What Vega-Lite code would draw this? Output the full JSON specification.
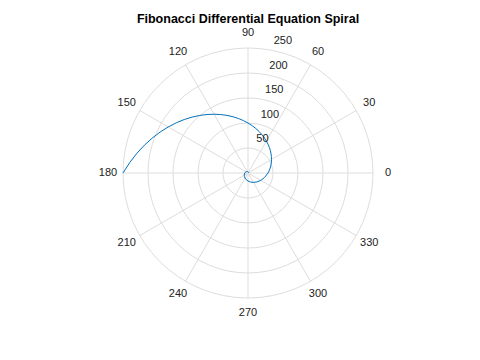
{
  "$schema": "https://vega.github.io/schema/vega-lite/v6.json",
  "width": 250,
  "height": 250,
  "autosize": {"type": "none"},
  "padding": {"left": 123, "top": 48, "right": 107, "bottom": 62},
  "background": "white",
  "title": {
    "text": "Fibonacci Differential Equation Spiral",
    "font": "Liberation Sans",
    "fontSize": 12.5,
    "fontWeight": "bold",
    "color": "#000000",
    "anchor": "middle",
    "frame": "group",
    "offset": 2
  },
  "config": {"view": {"stroke": null}},
  "layer": [
    {
      "data": {"values": [{"r": 50}, {"r": 100}, {"r": 150}, {"r": 200}, {"r": 250}]},
      "mark": {"type": "arc", "theta": 0, "theta2": 6.2832, "filled": false, "fill": null, "stroke": "#dddddd", "strokeWidth": 1},
      "encoding": {
        "radius": {"field": "r", "type": "quantitative", "stack": null, "scale": {"type": "linear", "domain": [0, 250], "range": [0, 125], "zero": true}}
      }
    },
    {
      "data": {"values": [
        {"x": 250, "y": 0, "x2": -250, "y2": 0},
        {"x": 216.506, "y": 125, "x2": -216.506, "y2": -125},
        {"x": 125, "y": 216.506, "x2": -125, "y2": -216.506},
        {"x": 0, "y": 250, "x2": 0, "y2": -250},
        {"x": -125, "y": 216.506, "x2": 125, "y2": -216.506},
        {"x": -216.506, "y": 125, "x2": 216.506, "y2": -125}
      ]},
      "mark": {"type": "rule", "stroke": "#dddddd", "strokeWidth": 1},
      "encoding": {
        "x": {"field": "x", "type": "quantitative", "scale": {"domain": [-250, 250], "nice": false, "zero": false}, "axis": null},
        "y": {"field": "y", "type": "quantitative", "scale": {"domain": [-250, 250], "nice": false, "zero": false}, "axis": null},
        "x2": {"field": "x2"},
        "y2": {"field": "y2"}
      }
    },
    {
      "data": {"values": [
        {"t": -360, "x": 1.024, "y": 0},
        {"t": -345, "x": 1.152, "y": 0.309},
        {"t": -330, "x": 1.204, "y": 0.695},
        {"t": -315, "x": 1.145, "y": 1.145},
        {"t": -300, "x": 0.943, "y": 1.633},
        {"t": -285, "x": 0.569, "y": 2.122},
        {"t": -270, "x": 0, "y": 2.56},
        {"t": -255, "x": -0.772, "y": 2.88},
        {"t": -240, "x": -1.737, "y": 3.009},
        {"t": -225, "x": -2.862, "y": 2.862},
        {"t": -210, "x": -4.083, "y": 2.358},
        {"t": -195, "x": -5.306, "y": 1.422},
        {"t": -180, "x": -6.4, "y": 0},
        {"t": -165, "x": -7.202, "y": -1.93},
        {"t": -150, "x": -7.522, "y": -4.343},
        {"t": -135, "x": -7.155, "y": -7.155},
        {"t": -120, "x": -5.894, "y": -10.209},
        {"t": -105, "x": -3.554, "y": -13.265},
        {"t": -90, "x": 0, "y": -16},
        {"t": -75, "x": 4.824, "y": -18.005},
        {"t": -60, "x": 10.858, "y": -18.806},
        {"t": -45, "x": 17.888, "y": -17.888},
        {"t": -30, "x": 25.524, "y": -14.736},
        {"t": -15, "x": 33.164, "y": -8.886},
        {"t": 0, "x": 40, "y": 0},
        {"t": 5, "x": 41.929, "y": 3.668},
        {"t": 10, "x": 43.614, "y": 7.69},
        {"t": 15, "x": 45.012, "y": 12.061},
        {"t": 20, "x": 46.076, "y": 16.77},
        {"t": 25, "x": 46.76, "y": 21.805},
        {"t": 30, "x": 47.015, "y": 27.144},
        {"t": 35, "x": 46.792, "y": 32.764},
        {"t": 40, "x": 46.044, "y": 38.636},
        {"t": 45, "x": 44.722, "y": 44.722},
        {"t": 50, "x": 42.776, "y": 50.979},
        {"t": 55, "x": 40.164, "y": 57.36},
        {"t": 60, "x": 36.841, "y": 63.81},
        {"t": 65, "x": 32.765, "y": 70.264},
        {"t": 70, "x": 27.901, "y": 76.658},
        {"t": 75, "x": 22.216, "y": 82.912},
        {"t": 80, "x": 15.684, "y": 88.947},
        {"t": 85, "x": 8.283, "y": 94.675},
        {"t": 90, "x": 0, "y": 100},
        {"t": 95, "x": -9.171, "y": 104.821},
        {"t": 100, "x": -19.226, "y": 109.035},
        {"t": 105, "x": -30.152, "y": 112.529},
        {"t": 110, "x": -41.926, "y": 115.189},
        {"t": 115, "x": -54.512, "y": 116.9},
        {"t": 120, "x": -67.861, "y": 117.539},
        {"t": 125, "x": -81.912, "y": 116.982},
        {"t": 130, "x": -96.59, "y": 115.112},
        {"t": 135, "x": -111.804, "y": 111.804},
        {"t": 140, "x": -127.447, "y": 106.942},
        {"t": 145, "x": -143.4, "y": 100.411},
        {"t": 150, "x": -159.524, "y": 92.101},
        {"t": 155, "x": -175.663, "y": 81.913},
        {"t": 160, "x": -191.644, "y": 69.753},
        {"t": 165, "x": -207.284, "y": 55.542},
        {"t": 170, "x": -222.373, "y": 39.211},
        {"t": 175, "x": -236.689, "y": 20.709},
        {"t": 180, "x": -250, "y": 0}
      ]},
      "mark": {"type": "line", "stroke": "#0072BD", "strokeWidth": 1},
      "encoding": {
        "x": {"field": "x", "type": "quantitative"},
        "y": {"field": "y", "type": "quantitative"},
        "order": {"field": "t", "type": "quantitative"}
      }
    },
    {
      "data": {"values": [
        {"label": "0", "x": 280, "y": 0},
        {"label": "30", "x": 242.49, "y": 140},
        {"label": "60", "x": 140, "y": 242.49},
        {"label": "90", "x": 0, "y": 280},
        {"label": "120", "x": -140, "y": 242.49},
        {"label": "150", "x": -242.49, "y": 140},
        {"label": "180", "x": -280, "y": 0},
        {"label": "210", "x": -242.49, "y": -140},
        {"label": "240", "x": -140, "y": -242.49},
        {"label": "270", "x": 0, "y": -280},
        {"label": "300", "x": 140, "y": -242.49},
        {"label": "330", "x": 242.49, "y": -140}
      ]},
      "mark": {"type": "text", "font": "Liberation Sans", "fontSize": 11, "fill": "#222222", "align": "center", "baseline": "middle"},
      "encoding": {
        "x": {"field": "x", "type": "quantitative"},
        "y": {"field": "y", "type": "quantitative"},
        "text": {"field": "label"}
      }
    },
    {
      "data": {"values": [
        {"label": "50", "x": 8.68, "y": 49.24},
        {"label": "100", "x": 17.36, "y": 98.48},
        {"label": "150", "x": 26.05, "y": 147.72},
        {"label": "200", "x": 34.73, "y": 196.96},
        {"label": "250", "x": 43.41, "y": 246.2}
      ]},
      "mark": {"type": "text", "font": "Liberation Sans", "fontSize": 11, "fill": "#222222", "align": "left", "baseline": "middle", "dx": 4, "dy": -9},
      "encoding": {
        "x": {"field": "x", "type": "quantitative"},
        "y": {"field": "y", "type": "quantitative"},
        "text": {"field": "label"}
      }
    }
  ]
}
